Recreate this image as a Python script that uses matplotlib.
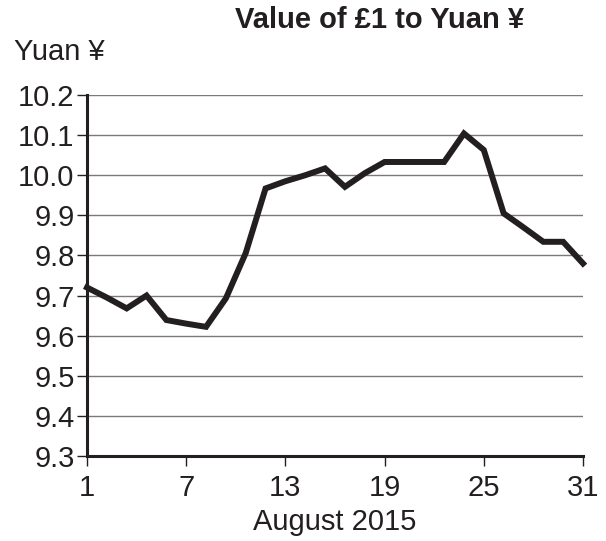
import matplotlib
matplotlib.use("Agg")
import matplotlib.pyplot as plt

# data: 26 points evenly spread over the month
days = [1 + 1.2 * i for i in range(26)]
yuan = [9.72, 9.695, 9.668, 9.70, 9.639, 9.63, 9.622, 9.693, 9.806, 9.967,
        9.985, 10.0, 10.017, 9.971, 10.005, 10.033, 10.033, 10.033, 10.033,
        10.104, 10.063, 9.905, 9.87, 9.834, 9.834, 9.78]
xticks = [1, 7, 13, 19, 25, 31]
yticks = [9.3, 9.4, 9.5, 9.6, 9.7, 9.8, 9.9, 10.0, 10.1, 10.2]

plt.rcParams['font.family'] = ['Liberation Sans', 'DejaVu Sans']

fig = plt.figure(figsize=(6.06, 5.41), dpi=100)
ax = fig.add_axes([87/606, 1 - 456/541, (583 - 87)/606, (456 - 95)/541])

ax.plot(days, yuan, color='#231f20', lw=4.3, solid_joinstyle='miter',
        clip_on=False, zorder=3)

ax.set_xlim(1, 31)
ax.set_ylim(9.3, 10.2)
ax.set_xticks(xticks)
ax.set_yticks(yticks)
ax.set_yticklabels([f"{v:.1f}" for v in yticks])
ax.grid(axis='y', color='#7a7a7a', lw=1.0)
ax.set_axisbelow(True)

for s in ['top', 'right']:
    ax.spines[s].set_visible(False)
for s in ['left', 'bottom']:
    ax.spines[s].set_linewidth(2.2)
    ax.spines[s].set_color('#231f20')

ax.tick_params(length=7, width=1, color='#231f20', labelsize=21,
               labelcolor='#231f20')
ax.tick_params(axis='x', pad=6)
ax.tick_params(axis='y', pad=2)
ax.set_xlabel("August 2015", fontsize=21, color='#231f20', labelpad=4)

fig.text(380/606, 1 - 6/541, "Value of £1 to Yuan ¥", ha='center', va='top',
         fontsize=21, fontweight='bold', color='#231f20')
fig.text(14/606, 1 - 38/541, "Yuan ¥", ha='left', va='top',
         fontsize=21, color='#231f20')

fig.savefig("out.png", dpi=100)
